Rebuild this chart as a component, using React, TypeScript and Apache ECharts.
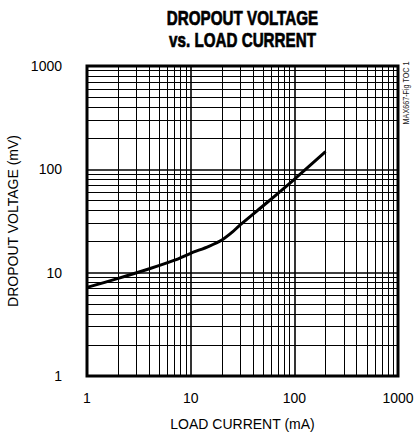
import React, { useEffect, useRef } from "react";
import * as echarts from "echarts";

const titleLines = ["DROPOUT VOLTAGE", "vs. LOAD CURRENT"];
const xName = "LOAD CURRENT (mA)";
const yName = "DROPOUT VOLTAGE (mV)";
const sideNote = "MAX667-Fig TOC 1";

const loadCurrent = [1, 2, 4, 7, 10, 15, 20, 25, 30, 55, 100, 200];
const dropoutVoltage = [7.2, 8.8, 10.9, 13.2, 15.4, 18, 20.7, 24.5, 29, 48, 80, 148];

const minorGrid = [2, 3, 4, 5, 6, 7, 8, 9, 20, 30, 40, 50, 60, 70, 80, 90, 200, 300, 400, 500, 600, 700, 800, 900];

const FONT = "'Liberation Sans', Arial, Helvetica, sans-serif";

export default function App() {
  const ref = useRef<HTMLDivElement>(null);
  useEffect(() => {
    const chart = echarts.init(ref.current!, null, { renderer: "svg" });
    const gridLeft = 87, gridTop = 66, gridW = 311, gridH = 310;
    const lineStyle = { color: "#000", width: 1, type: "solid" as const };
    const titleStyle = (text: string) => ({
      text, fill: "#000", stroke: "#000", lineWidth: 0.7,
      font: `bold 20px ${FONT}`, textAlign: "center", textVerticalAlign: "middle",
    });
    chart.setOption({
      animation: false,
      backgroundColor: "#fff",
      grid: {
        left: gridLeft, top: gridTop, width: gridW, height: gridH,
        show: true, borderColor: "#000", borderWidth: 3, backgroundColor: "transparent",
        containLabel: false, outerBoundsMode: "none",
      },
      graphic: [
        { type: "text", x: gridLeft + gridW / 2, y: 18, scaleX: 0.76, style: titleStyle(titleLines[0]) },
        { type: "text", x: gridLeft + gridW / 2, y: 40, scaleX: 0.76, style: titleStyle(titleLines[1]) },
        { type: "text", x: 406, y: 93, rotation: Math.PI / 2, scaleX: 0.8, style: { text: sideNote, fill: "#222", font: `9px ${FONT}`, textAlign: "center", textVerticalAlign: "middle" } },
      ],
      xAxis: {
        type: "log", logBase: 10, min: 1, max: 1000,
        name: xName, nameLocation: "middle", nameGap: 41,
        nameTextStyle: { color: "#000", fontSize: 14, fontFamily: FONT },
        axisLine: { show: false },
        axisTick: { show: false },
        axisLabel: { color: "#000", fontSize: 14, fontFamily: FONT, margin: 15, formatter: (v: number) => String(v) },
        splitLine: { show: true, lineStyle: { color: "#000", width: 1.6 } },
        minorTick: { show: false },
      },
      yAxis: {
        type: "log", logBase: 10, min: 1, max: 1000,
        name: yName, nameLocation: "middle", nameGap: 57, nameRotate: 90,
        nameTextStyle: { color: "#000", fontSize: 14, fontFamily: FONT },
        axisLine: { show: false },
        axisTick: { show: false },
        axisLabel: { color: "#000", fontSize: 14, fontFamily: FONT, margin: 25, formatter: (v: number) => String(v) },
        splitLine: { show: true, lineStyle: { color: "#000", width: 1.6 } },
      },
      series: [
        {
          type: "line",
          data: [],
          silent: true,
          markLine: {
            silent: true,
            symbol: "none",
            label: { show: false },
            lineStyle,
            data: [
              ...minorGrid.map((v) => ({ xAxis: v })),
              ...minorGrid.map((v) => ({ yAxis: v })),
            ],
          },
        },
        {
          type: "line",
          data: loadCurrent.map((x, i) => [x, dropoutVoltage[i]]),
          smooth: 0.3,
          showSymbol: false,
          lineStyle: { color: "#000", width: 3 },
          z: 5,
        },
      ],
    });
    return () => chart.dispose();
  }, []);
  return <div ref={ref} style={{ position: "fixed", left: 0, top: 0, width: 417, height: 435 }} />;
}
